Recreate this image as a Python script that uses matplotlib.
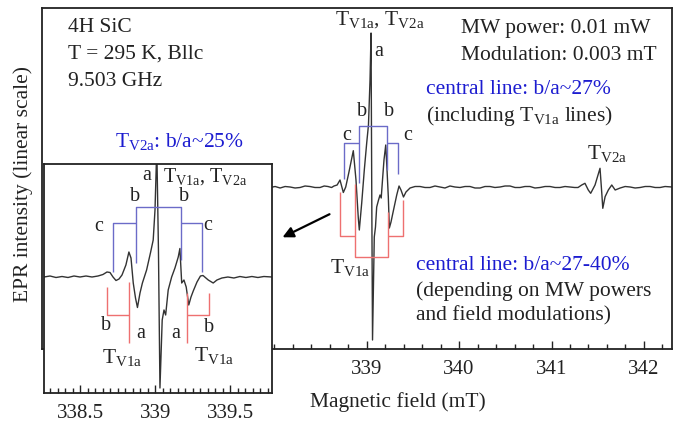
import matplotlib
matplotlib.use("Agg")
import matplotlib.pyplot as plt
import numpy as np

plt.rcParams['font.family'] = ['Liberation Serif', 'DejaVu Serif']
plt.rcParams['mathtext.fontset'] = 'custom'
plt.rcParams['mathtext.rm'] = 'Liberation Serif'
plt.rcParams['mathtext.it'] = 'Liberation Serif:italic'

# ---- main spectrum (field in mT, intensity in a.u.) ----
main_field = [337.955, 338.009, 338.063, 338.117, 338.171, 338.225, 338.279, 338.333, 338.386,
              338.440, 338.495, 338.540, 338.581, 338.620, 338.646, 338.680, 338.711, 338.747,
              338.773, 338.808, 338.855, 338.884, 338.909, 338.920, 338.946, 338.974, 339.000,
              339.019, 339.036, 339.047, 339.055, 339.063, 339.082, 339.095, 339.108, 339.128,
              339.144, 339.157, 339.171, 339.187, 339.206, 339.220, 339.234, 339.245, 339.263,
              339.288, 339.325, 339.350, 339.371, 339.398, 339.425, 339.469, 339.523, 339.577,
              339.631, 339.685, 339.739, 339.793, 339.847, 339.901, 339.955, 340.010, 340.064,
              340.118, 340.172, 340.226, 340.280, 340.334, 340.388, 340.443, 340.497, 340.551,
              340.605, 340.659, 340.713, 340.767, 340.821, 340.876, 340.930, 340.984, 341.038,
              341.092, 341.146, 341.200, 341.250, 341.287, 341.327, 341.362, 341.398, 341.424,
              341.471, 341.525, 341.544, 341.555, 341.580, 341.615, 341.652, 341.689, 341.743,
              341.797, 341.851, 341.905, 341.959, 342.013, 342.067, 342.121, 342.175, 342.229,
              342.305]
main_int = [-0.5, 0.5, -1.0, 0.5, 0.0, -1.0, -0.5, 1.0, 0.5,
            -0.5, -0.5, 1.0, 0.5, -0.5, 1.0, 2.0, 7.0, -5.5,
            0.0, 15.0, 36.3, 7.0, -31.0, -43.0, -16.0, 17.0, 44.0,
            62.0, 107.0, 154.0, -13.0, -153.0, -50.0, -40.0, -20.0, -13.0,
            -8.0, -11.0, 7.0, 27.0, 42.0, 17.0, -10.0, -41.0, -35.0,
            -24.0, -8.0, 1.0, -3.0, -10.0, -5.0, -1.0, 0.5, 0.5,
            -0.5, -0.5, 1.0, 0.0, -1.0, 1.0, 0.0, -0.5, 0.5,
            0.5, -1.0, -1.0, 0.5, 0.5, -0.5, 0.0, 1.0, 1.0,
            -0.5, -0.5, 0.5, 0.5, -1.0, -0.5, 0.5, 0.5, -0.5,
            -0.5, 0.5, 0.0, -0.5, -0.5, 2.0, 3.7, -3.0, -6.3,
            2.0, 18.7, -6.0, -21.3, -9.7, -3.0, 2.0, -3.0, -1.0,
            0.5, 0.0, -1.0, -0.5, 0.5, 0.5, -0.5, -0.5, 0.5,
            0.0]

# ---- inset spectrum ----
inset_field = [338.257, 338.297, 338.337, 338.377, 338.417, 338.457, 338.497, 338.537, 338.577,
               338.617, 338.650, 338.677, 338.697, 338.717, 338.737, 338.757, 338.777, 338.803,
               338.823, 338.837, 338.852, 338.867, 338.880, 338.897, 338.913, 338.941, 338.968,
               338.985, 338.997, 339.009, 339.020, 339.030, 339.045, 339.057, 339.068, 339.085,
               339.108, 339.130, 339.152, 339.163, 339.175, 339.190, 339.205, 339.222, 339.237,
               339.252, 339.277, 339.300, 339.317, 339.352, 339.385, 339.410, 339.443, 339.483,
               339.523, 339.563, 339.603, 339.643, 339.683, 339.723, 339.777]
inset_int = [0.0, 1.0, -0.5, 0.5, -0.5, 1.0, 0.0, 1.0, 0.0,
             1.0, 2.5, 5.0, 4.5, 0.0, -3.5, -2.0, 2.0, 12.0,
             25.0, 19.0, -6.0, -21.0, -30.5, -16.0, -6.0, 7.0, 25.0,
             37.0, 67.0, 130.0, 27.0, -111.0, -43.0, -33.0, -38.0, -13.0,
             0.0, 9.0, 20.0, 28.5, -6.0, -3.0, -10.0, -28.0, -20.0,
             -14.0, -5.0, 1.0, 1.5, -3.0, -6.0, -3.0, -1.0, 0.0,
             -1.0, 0.5, -0.5, 0.5, -0.5, 0.5, 0.0]

main_ticks = [339, 340, 341, 342]
main_tick_labels = ['339', '340', '341', '342']
inset_ticks = [338.5, 339, 339.5]
inset_tick_labels = ['338.5', '339', '339.5']

W, H = 680, 424
fig = plt.figure(figsize=(W / 100, H / 100), dpi=100)

def fx(x):
    return x / W

def fy(y):
    return 1 - y / H

BLACK = '#222222'
LINE = '#333333'
BLUE_T = '#1c1cd0'
BLUE_B = '#6b6bc8'
RED_B = '#ee7070'
FS = 15.5
FS_L = 14.5
FS_T = 15

# main axes
ax = fig.add_axes([fx(42), fy(349), (672 - 42) / W, (349 - 8) / H])
ax.plot(main_field, main_int, color=LINE, lw=1.0)
ax.set_xlim(335.486, 342.304)
ax.set_ylim(-162, 179)
ax.set_yticks([])
ax.set_xticks(main_ticks)
ax.set_xticklabels(main_tick_labels, fontsize=FS_T)
ax.set_xticks(np.arange(336.0, 342.3, 0.2), minor=True)
ax.tick_params(axis='x', which='major', direction='in', length=6, width=1, pad=8, colors=BLACK)
ax.tick_params(axis='x', which='minor', direction='in', length=3.5, width=1, colors=BLACK)
for s in ax.spines.values():
    s.set_linewidth(1.3)
    s.set_color(BLACK)

def seg(a, xs, ys, c):
    a.plot(xs, ys, color=c, lw=1.0, solid_capstyle='butt')

# main blue brackets
seg(ax, [338.749, 338.749, 338.919], [8, 44.3, 44.3], BLUE_B)
seg(ax, [338.919, 338.919, 339.223, 339.223], [4, 61, 61, 17], BLUE_B)
seg(ax, [339.223, 339.342, 339.342], [44.3, 44.3, 13], BLUE_B)
# main red brackets
seg(ax, [338.716, 338.716, 338.876], [-5, -49, -49], RED_B)
seg(ax, [338.876, 338.876, 339.234, 339.234], [3, -70, -70, -25], RED_B)
seg(ax, [339.234, 339.393, 339.393], [-49, -49, -13], RED_B)

# inset axes
ins = fig.add_axes([fx(44), fy(393), (272 - 44) / W, (393 - 164) / H])
ins.set_zorder(2)
ins.set_facecolor('white')
ins.plot(inset_field, inset_int, color=LINE, lw=1.0)
ins.set_xlim(338.257, 339.777)
ins.set_ylim(-116, 113)
ins.set_yticks([])
ins.set_xticks(inset_ticks)
ins.set_xticklabels(inset_tick_labels, fontsize=FS_T)
ins.set_xticks(np.arange(338.3, 339.78, 0.05), minor=True)
ins.tick_params(axis='x', which='major', direction='in', length=6, width=1, pad=8, colors=BLACK)
ins.tick_params(axis='x', which='minor', direction='in', length=3.5, width=1, colors=BLACK)
for s in ins.spines.values():
    s.set_linewidth(1.3)
    s.set_color(BLACK)

# inset blue brackets
seg(ins, [338.719, 338.719, 338.870], [5.3, 53.7, 53.7], BLUE_B)
seg(ins, [338.870, 338.870, 339.168, 339.168], [13.7, 70.3, 70.3, 17], BLUE_B)
seg(ins, [339.168, 339.308, 339.308], [53.7, 53.7, 5.3], BLUE_B)
# inset red brackets
seg(ins, [338.675, 338.675, 338.825], [-9.7, -38, -38], RED_B)
seg(ins, [338.825, 338.825], [-4.7, -66.3], RED_B)
seg(ins, [339.208, 339.208], [-16, -66.3], RED_B)
seg(ins, [339.208, 339.359, 339.359], [-38, -38, -16], RED_B)

def T(x, y, s, size=FS, color=BLACK, ha='center', va='center', **kw):
    fig.text(fx(x), fy(y), s, fontsize=size, color=color, ha=ha, va=va, zorder=5, **kw)

TV1 = r'T$_{\mathrm{V1a}}$'
TV2 = r'T$_{\mathrm{V2a}}$'

# top-left info
T(68, 27, '4H SiC', ha='left')
T(68, 54, 'T = 295 K, Bllc', ha='left')
T(68, 81, '9.503 GHz', ha='left')
# top-right info
T(461, 28, 'MW power: 0.01 mW', ha='left')
T(461, 55, 'Modulation: 0.003 mT', ha='left')
T(426, 90, 'central line: b/a~27%', ha='left', color=BLUE_T)
T(426, 116, '(including ' + TV1 + ' lines)', ha='left')
T(416, 266, 'central line: b/a~27-40%', ha='left', color=BLUE_T)
T(416, 291, '(depending on MW powers', ha='left')
T(416, 316, 'and field modulations)', ha='left')
T(179, 142, TV2 + ': b/a~25%', color=BLUE_T)

# main labels
T(380, 20, TV1 + ', ' + TV2)
T(379, 51, 'a', size=FS_L)
T(362, 111, 'b', size=FS_L)
T(389, 111, 'b', size=FS_L)
T(347, 136, 'c', size=FS_L)
T(408, 135, 'c', size=FS_L)
T(607, 154, TV2)
T(350, 268, TV1)

# inset labels
T(147, 175, 'a', size=FS_L)
T(163, 177, TV1 + ', ' + TV2, ha='left', size=14.5)
T(135, 197, 'b', size=FS_L)
T(184, 197, 'b', size=FS_L)
T(99, 226, 'c', size=FS_L)
T(208, 225, 'c', size=FS_L)
T(106, 325, 'b', size=FS_L)
T(141, 334, 'a', size=FS_L)
T(176, 334, 'a', size=FS_L)
T(209, 328, 'b', size=FS_L)
T(122, 357, TV1)
T(214, 355, TV1)

# axis labels
T(398, 402, 'Magnetic field (mT)')
T(23, 184, 'EPR intensity (linear scale)', rotation=90)

# arrow
fig.add_artist(matplotlib.patches.FancyArrowPatch(
    (fx(332), fy(213)), (fx(280), fy(238.5)), transform=fig.transFigure,
    arrowstyle='-|>', mutation_scale=16, color='black', lw=1.6, zorder=6))

fig.savefig('out.png', dpi=100)
